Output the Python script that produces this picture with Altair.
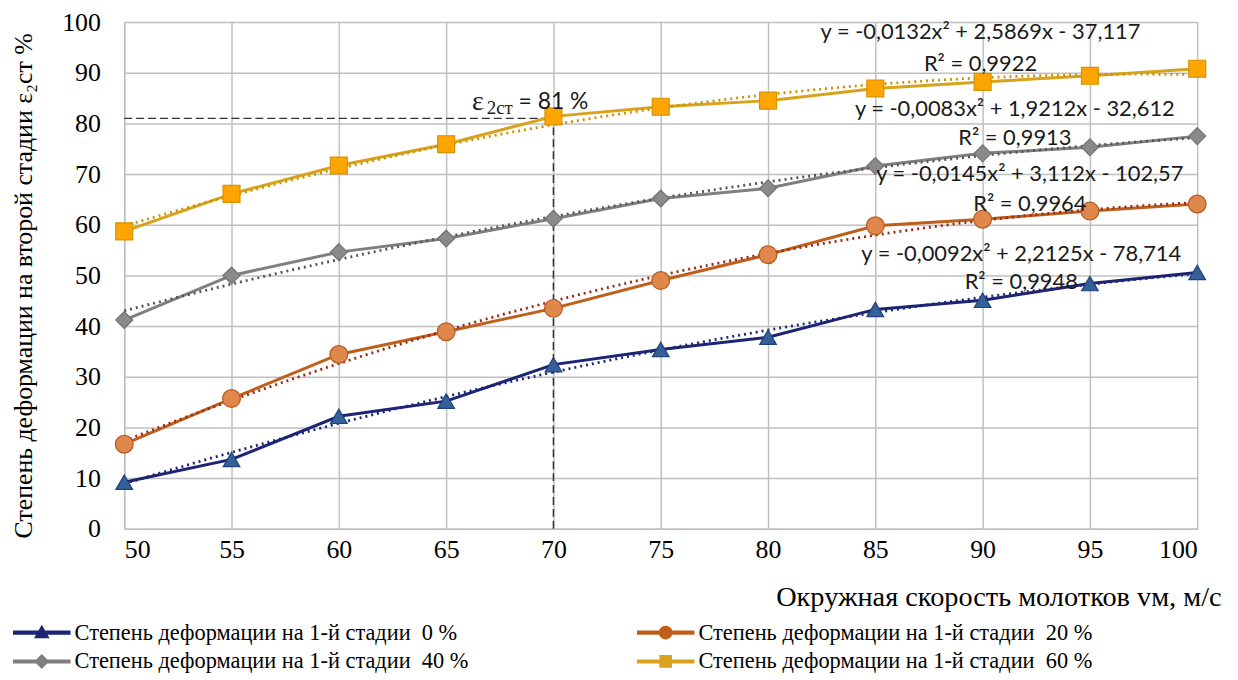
import altair as alt
import pandas as pd

# ---------------- data ----------------
speed = [50, 55, 60, 65, 70, 75, 80, 85, 90, 95, 100]
series_names = [
    "Степень деформации на 1-й стадии \u00a00 %",
    "Степень деформации на 1-й стадии \u00a020 %",
    "Степень деформации на 1-й стадии \u00a040 %",
    "Степень деформации на 1-й стадии \u00a060 %",
]
eps_0 = [9.2, 13.7, 22.2, 25.2, 32.4, 35.4, 37.8, 43.3, 45.1, 48.4, 50.6]
eps_20 = [16.7, 25.7, 34.4, 38.9, 43.5, 49.0, 54.1, 59.8, 61.1, 62.7, 64.1]
eps_40 = [41.2, 50.0, 54.6, 57.3, 61.2, 65.2, 67.2, 71.6, 74.1, 75.3, 77.5]
eps_60 = [58.7, 66.1, 71.7, 75.9, 81.4, 83.3, 84.5, 86.9, 88.2, 89.4, 90.8]
all_series = [eps_0, eps_20, eps_40, eps_60]

eq_labels = [
    "y = -0,0132x² + 2,5869x - 37,117", "R² = 0,9922",
    "y = -0,0083x² + 1,9212x - 32,612", "R² = 0,9913",
    "y = -0,0145x² + 3,112x - 102,57", "R² = 0,9964",
    "y = -0,0092x² + 2,2125x - 78,714", "R² = 0,9948",
]
eq_x = [89.9, 89.9, 91.5, 91.5, 92.2, 92.2, 91.8, 91.8]
eq_y = [98.0, 91.8, 82.9, 77.1, 70.0, 64.1, 54.3, 48.6]

ref_speed_min = [50]
ref_speed = [70]
ref_eps_min = [0]
ref_eps = [81]
ref_label_x = [66.2]
ref_label_y = [84.3]

x_ticks = [50, 55, 60, 65, 70, 75, 80, 85, 90, 95, 100]
y_ticks = [0, 10, 20, 30, 40, 50, 60, 70, 80, 90, 100]

# ---------------- styles ----------------
SERIF = "Liberation Serif"
SANS = "Lato"
line_colors = ["#1c2474", "#bf5f1c", "#7f7f7f", "#d9a21c"]
marker_fill = ["#34609a", "#e0874c", "#8a8a8a", "#ffa502"]
marker_stroke = ["#22407a", "#b45a1e", "#737373", "#d49300"]
trend_colors = ["#1c2474", "#9a2a14", "#555555", "#c99400"]
shapes = ["triangle-up", "circle", "diamond", "square"]
sizes = [280, 320, 290, 290]

line_part = "M-1,-0.07H1V0.07H-1Z"
legend_paths = [
    line_part + "M0,-0.27L0.27,0.2H-0.27Z",
    line_part + "M-0.24,0A0.24,0.24 0 1,1 0.24,0A0.24,0.24 0 1,1 -0.24,0Z",
    line_part + "M0,-0.26L0.26,0L0,0.26L-0.26,0Z",
    line_part + "M-0.22,-0.22H0.22V0.22H-0.22Z",
]

rows = []
for name, vals in zip(series_names, all_series):
    for s, v in zip(speed, vals):
        rows.append({"speed": s, "value": v, "series": name})
df = pd.DataFrame(rows)

xscale = alt.Scale(domain=[50, 100], nice=False, zero=False)
yscale = alt.Scale(domain=[0, 100], nice=False)

xaxis = alt.Axis(
    values=x_ticks, title="Окружная скорость молотков vм, м/с",
    titleAnchor="end", titleAlign="right",
    titleX=1104, titleY=77, titleBaseline="alphabetic",
)
yaxis = alt.Axis(
    values=y_ticks, title="Степень деформации на второй стадии ε₂ст   %",
    titleAngle=270, titleX=-101, titleY=265,
    titleAlign="center", titleBaseline="middle", labelPadding=24,
)

base = alt.Chart(df)
X = alt.X("speed:Q", scale=xscale)
Y = alt.Y("value:Q", scale=yscale)

layers = []
# axes / grid carrier
layers.append(
    base.mark_line(opacity=0).encode(
        x=alt.X("speed:Q", scale=xscale, axis=xaxis),
        y=alt.Y("value:Q", scale=yscale, axis=yaxis),
        detail="series:N",
    )
)

# dashed reference lines
ref_df = pd.DataFrame({"x0": ref_speed_min, "x1": ref_speed, "y0": ref_eps_min, "y1": ref_eps})
ref_base = alt.Chart(ref_df)
layers.append(
    ref_base.mark_rule(color="#333333", strokeWidth=1.5, strokeDash=[8, 4]).encode(
        x=alt.X("x0:Q", scale=xscale), x2="x1:Q", y=alt.Y("y1:Q", scale=yscale)
    )
)
layers.append(
    ref_base.mark_rule(color="#333333", strokeWidth=1.5, strokeDash=[8, 4]).encode(
        x=alt.X("x1:Q", scale=xscale), y=alt.Y("y0:Q", scale=yscale), y2="y1:Q"
    )
)

for i, name in enumerate(series_names):
    sb = base.transform_filter(alt.datum.series == name)
    layers.append(sb.mark_line(color=line_colors[i], strokeWidth=3).encode(x=X, y=Y))
for i, name in enumerate(series_names):
    sb = base.transform_filter(alt.datum.series == name)
    layers.append(
        sb.transform_regression("speed", "value", method="poly", order=2, extent=[50, 100])
        .mark_line(color=trend_colors[i], strokeWidth=2.8, strokeDash=[2, 4], strokeCap="butt")
        .encode(x=X, y=Y)
    )
for i, name in enumerate(series_names):
    sb = base.transform_filter(alt.datum.series == name)
    layers.append(
        sb.mark_point(shape=shapes[i], filled=True, fill=marker_fill[i], stroke=marker_stroke[i],
                      strokeWidth=1.2, size=sizes[i], opacity=1).encode(x=X, y=Y)
    )

legend = alt.Legend(
    title=None, orient="none", legendX=-112, legendY=600, columns=2, columnPadding=169,
    rowPadding=0, clipHeight=29, labelFont=SERIF, labelFontSize=22.5, labelColor="#000000",
    labelLimit=800, symbolSize=3364, labelOffset=4, padding=0, symbolStrokeWidth=0,
    direction="horizontal", symbolOpacity=1,
)
# legend carrier (empty data)
layers.append(
    base.transform_filter(alt.datum.speed < 0).mark_point(filled=True, opacity=1).encode(
        x=X, y=Y,
        color=alt.Color("series:N", scale=alt.Scale(domain=series_names, range=line_colors),
                        legend=legend),
        shape=alt.Shape("series:N", scale=alt.Scale(domain=series_names, range=legend_paths),
                        legend=legend),
        size=alt.value(3364),
    )
)

# equation annotations
eq_df = pd.DataFrame({"label": eq_labels, "x": eq_x, "y": eq_y})
layers.append(
    alt.Chart(eq_df).mark_text(font=SANS, fontSize=22, color="#1a1a1a", align="center",
                               baseline="middle").encode(
        x=alt.X("x:Q", scale=xscale), y=alt.Y("y:Q", scale=yscale), text="label:N"
    )
)

# epsilon annotation
ann_df = pd.DataFrame({"x": ref_label_x, "y": ref_label_y})
ann = alt.Chart(ann_df)
AX = alt.X("x:Q", scale=xscale)
AY = alt.Y("y:Q", scale=yscale)
layers.append(ann.mark_text(text="ε", font=SERIF, fontSize=28, align="left",
                            baseline="middle", color="#1a1a1a").encode(x=AX, y=AY))
layers.append(ann.mark_text(text="2ст", font=SERIF, fontSize=19, align="left",
                            baseline="middle", dx=15, dy=6, color="#1a1a1a").encode(x=AX, y=AY))
layers.append(ann.mark_text(text="= 81 %", font=SANS, fontSize=23, align="left",
                            baseline="middle", dx=47, color="#1a1a1a").encode(x=AX, y=AY))

chart = alt.layer(*layers).properties(
    width=1080, height=510,
    autosize=alt.AutoSizeParams(type="none"),
    padding={"left": 117, "top": 12, "right": 33, "bottom": 150},
    background="white",
).configure_view(stroke=None).configure_axis(
    grid=True, gridColor="#c0c0c0", gridWidth=1.5,
    domainColor="#c0c0c0", domainWidth=1.5, ticks=False,
    labelFont=SERIF, labelFontSize=26, labelColor="#000000",
    titleFont=SERIF, titleFontWeight="normal", titleColor="#000000",
).configure_axisX(
    labelPadding=8, titleFontSize=28.5,
).configure_axisY(
    labelPadding=24, titleFontSize=26,
)

chart.save("out.html", embed_options={"renderer": "svg", "actions": False})
